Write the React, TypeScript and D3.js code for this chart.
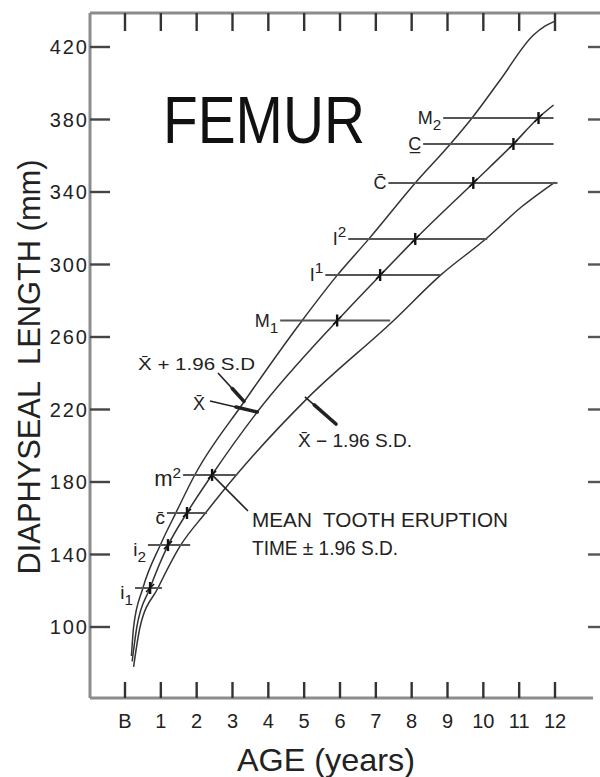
import React from "react";
import * as d3 from "d3";

// ---------- data ----------
const ageTicks = [0, 1, 2, 3, 4, 5, 6, 7, 8, 9, 10, 11, 12];
const ageTickLabels = ["B", "1", "2", "3", "4", "5", "6", "7", "8", "9", "10", "11", "12"];
const lengthTicks = [100, 140, 180, 220, 260, 300, 340, 380, 420];

// X̄ + 1.96 S.D.
const upperAge = [0.18, 0.24, 0.5, 0.98, 1.42, 1.95, 3.3, 4.94, 5.92, 6.8, 8.1, 9.08, 9.69, 10.47, 11.4, 11.73, 12.0];
const upperLen = [84, 100, 121.5, 145, 163, 184, 223.6, 269, 294, 314, 345, 366.5, 381, 401.8, 426.6, 431.6, 434.3];
// X̄
const meanAge = [0.2, 0.33, 0.7, 1.2, 1.73, 2.43, 3.69, 5.92, 7.12, 8.1, 9.72, 10.84, 11.54, 11.96];
const meanLen = [81, 100, 121.5, 145, 163, 184, 218.6, 269, 294, 314, 345, 366.5, 381, 388];
// X̄ − 1.96 S.D.
const lowerAge = [0.24, 0.42, 0.92, 1.55, 2.25, 3.07, 5.08, 7.49, 8.8, 10.1, 11.06, 12.0];
const lowerLen = [78, 100, 121.5, 145, 163, 183, 226, 269, 294, 314.6, 331.7, 345.5];

// mean tooth eruption time ± 1.96 S.D.
const toothBase = ["i", "i", "c", "m", "M", "I", "I", "C", "C", "M"];
const toothIndex = ["1", "2", "", "2", "1", "1", "2", "", "", "2"];
const toothIndexPos = ["sub", "sub", "", "sup", "sub", "sup", "sup", "", "", "sub"];
const toothMark = ["", "", "bar", "", "", "", "", "bar", "under", ""];
const toothLen = [121.5, 145.2, 162.9, 183.9, 269.1, 294.2, 314.1, 345, 366.5, 380.8];
const toothEarly = [0.28, 0.64, 1.17, 1.62, 4.33, 5.59, 6.23, 7.35, 8.32, 8.88];
const toothMean = [0.7, 1.2, 1.73, 2.43, 5.92, 7.12, 8.1, 9.72, 10.84, 11.54];
const toothLate = [1.03, 1.82, 2.29, 3.13, 7.4, 8.8, 10.11, 12.07, 11.96, 11.96];

const title = "FEMUR";
const yTitle = "DIAPHYSEAL  LENGTH (mm)";
const xTitle = "AGE (years)";
const upperLabel = "X\u0304 + 1.96 S.D";
const meanLabel = "X\u0304";
const lowerLabel = "X\u0304 \u2212 1.96 S.D.";
const noteLine1 = "MEAN  TOOTH ERUPTION";
const noteLine2 = "TIME \u00B1 1.96 S.D.";

// ---------- layout ----------
const W = 600;
const H = 777;
const frameLeft = 90;
const frameTop = 13;
const frameBottom = 698;
const FONT = "'Liberation Sans', Arial, sans-serif";

export default function App() {
  const x = d3.scaleLinear().domain([0, 12]).range([125, 555]);
  const y = d3.scaleLinear().domain([100, 420]).range([627, 47]);

  const line = d3
    .line<[number, number]>()
    .x((d) => x(d[0]))
    .y((d) => y(d[1]))
    .curve(d3.curveMonotoneX);

  const curves = [
    upperAge.map((a, i) => [a, upperLen[i]] as [number, number]),
    meanAge.map((a, i) => [a, meanLen[i]] as [number, number]),
    lowerAge.map((a, i) => [a, lowerLen[i]] as [number, number]),
  ];

  const ink = "#222";
  const axisGray = "#8c8c8c";

  const arrow = (x1: number, y1: number, x2: number, y2: number, key: string, headFrom = 0.55) => {
    const hx = x1 + (x2 - x1) * headFrom;
    const hy = y1 + (y2 - y1) * headFrom;
    return (
      <g key={key}>
        <line x1={x1} y1={y1} x2={x2} y2={y2} stroke={ink} strokeWidth={1.6} />
        <line x1={hx} y1={hy} x2={x2} y2={y2} stroke={ink} strokeWidth={3.6} strokeLinecap="round" />
      </g>
    );
  };

  return (
    <svg
      width={W}
      height={H}
      style={{ position: "absolute", left: 0, top: 0, display: "block", background: "#fff" }}
      fontFamily={FONT}
    >
      {/* frame */}
      <line x1={frameLeft} y1={frameTop} x2={600} y2={frameTop} stroke={axisGray} strokeWidth={3} />
      <line x1={frameLeft} y1={frameTop} x2={frameLeft} y2={frameBottom} stroke={axisGray} strokeWidth={3} />
      <line x1={frameLeft} y1={frameBottom} x2={593} y2={frameBottom} stroke={axisGray} strokeWidth={3} />

      {/* x ticks bottom and top */}
      {ageTicks.map((a, i) => (
        <g key={"xt" + i}>
          <line x1={x(a)} x2={x(a)} y1={frameBottom} y2={frameBottom - 16} stroke="#333" strokeWidth={2.4} />
          <line x1={x(a)} x2={x(a)} y1={frameTop} y2={frameTop + 18} stroke="#333" strokeWidth={2.4} />
          <text x={x(a)} y={728} textAnchor="middle" fontSize={20} fill={ink}>
            {ageTickLabels[i]}
          </text>
        </g>
      ))}

      {/* y ticks left and right */}
      {lengthTicks.map((v, i) => (
        <g key={"yt" + i}>
          <line x1={frameLeft} x2={frameLeft + 20} y1={y(v)} y2={y(v)} stroke="#444" strokeWidth={2.4} />
          <line x1={588} x2={600} y1={y(v)} y2={y(v)} stroke="#555" strokeWidth={2.4} />
          <text x={89} y={y(v) + 7} textAnchor="end" fontSize={20} letterSpacing={2} fill={ink}>
            {v}
          </text>
        </g>
      ))}

      {/* titles */}
      <text x={163} y={143} fontSize={66} textLength={202} lengthAdjust="spacingAndGlyphs" fill="#111">
        {title}
      </text>
      <text
        transform="translate(40,367) rotate(-90)"
        textAnchor="middle"
        fontSize={32}
        textLength={415}
        lengthAdjust="spacingAndGlyphs"
        fill={ink}
        style={{ whiteSpace: "pre" }}
      >
        {yTitle}
      </text>
      <text x={237} y={771} fontSize={32} textLength={178} lengthAdjust="spacingAndGlyphs" fill={ink}>
        {xTitle}
      </text>

      {/* growth curves */}
      {curves.map((c, i) => (
        <path key={"c" + i} d={line(c) || ""} fill="none" stroke="#333" strokeWidth={1.5} />
      ))}

      {/* tooth eruption bars */}
      {toothLen.map((v, i) => {
        const yy = y(v);
        const x0 = x(toothEarly[i]);
        const x1 = x(toothLate[i]);
        const xm = x(toothMean[i]);
        const small = v < 200;
        const fs = toothBase[i] === "m" ? 22 : small ? 19 : 18;
        let base = toothBase[i];
        if (toothMark[i] === "bar") base += "\u0304";
        if (toothMark[i] === "under") base += "\u0332";
        const pos = toothIndexPos[i];
        const dy = pos === "sub" ? 6 : pos === "sup" ? -8 : 0;
        const baseY = small ? yy + 11 : yy + 6;
        return (
          <g key={"t" + i}>
            <line x1={x0} x2={x1} y1={yy} y2={yy} stroke="#555" strokeWidth={2} />
            <line x1={xm} x2={xm} y1={yy - 6} y2={yy + 6} stroke="#111" strokeWidth={2.4} />
            <line x1={xm - 4} x2={xm + 4} y1={yy + 4} y2={yy - 4} stroke="#111" strokeWidth={1.6} />
            <text x={x0 - 2} y={baseY} textAnchor="end" fontSize={fs} fill={ink}>
              <tspan>{base}</tspan>
              {toothIndex[i] ? (
                <tspan dy={dy} fontSize={18 * 0.85}>
                  {toothIndex[i]}
                </tspan>
              ) : null}
            </text>
          </g>
        );
      })}

      {/* annotations */}
      <text x={138} y={370} fontSize={17} textLength={117} lengthAdjust="spacingAndGlyphs" fill={ink}>
        {upperLabel}
      </text>
      {arrow(218, 373, x(3.32), y(224.5), "a1")}
      <text x={193} y={410} fontSize={18} fill={ink}>
        {meanLabel}
      </text>
      {arrow(210, 401, x(3.69), y(218.6), "a2")}
      <text x={298} y={447} fontSize={18} textLength={114} lengthAdjust="spacingAndGlyphs" fill={ink}>
        {lowerLabel}
      </text>
      {arrow(x(5.02), y(227), 336, 424, "a3", 0.3)}

      <line x1={x(2.43)} y1={y(183.9)} x2={248} y2={511} stroke={ink} strokeWidth={1.6} />
      <text
        x={252}
        y={527}
        fontSize={20}
        textLength={256}
        lengthAdjust="spacingAndGlyphs"
        fill={ink}
        style={{ whiteSpace: "pre" }}
      >
        {noteLine1}
      </text>
      <text x={252} y={555} fontSize={20} textLength={146} lengthAdjust="spacingAndGlyphs" fill={ink}>
        {noteLine2}
      </text>
    </svg>
  );
}
